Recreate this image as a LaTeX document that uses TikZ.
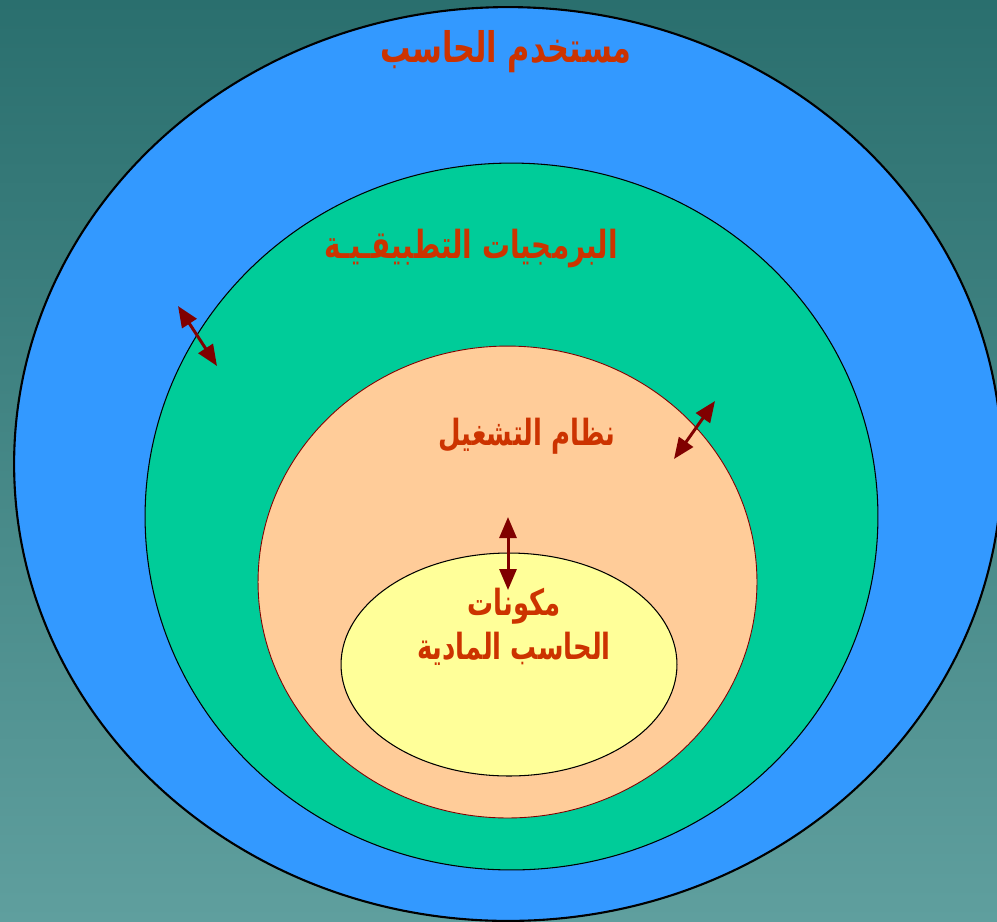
\documentclass[tikz,border=0pt]{standalone}
\usepackage{fontspec}
\newfontfamily\arabicfont[Script=Arabic,FakeStretch=0.72]{DejaVu Sans}
\TeXXeTstate=1
\usetikzlibrary{arrows.meta}

\definecolor{bgtop}{HTML}{2A6F6E}
\definecolor{bgbot}{HTML}{5F9F9E}
\definecolor{userblue}{HTML}{3399FF}
\definecolor{appgreen}{HTML}{00CC99}
\definecolor{ospeach}{HTML}{FFCC99}
\definecolor{hwyellow}{HTML}{FFFF99}
\definecolor{labelred}{HTML}{CC3300}
\definecolor{arrowred}{HTML}{800000}

\tikzset{
  layerlabel/.style={text=labelred, font=\arabicfont\bfseries\fontsize{22}{28}\selectfont, align=center},
  smalllabel/.style={layerlabel, font=\arabicfont\bfseries\fontsize{20.5}{26}\selectfont},
  linkarrow/.style={draw=arrowred, line width=1.7pt, {Triangle[length=0.42cm,width=0.34cm]}-{Triangle[length=0.42cm,width=0.34cm]}}
}

\begin{document}
\begin{tikzpicture}[x=0.02cm,y=-0.02cm]
        \clip (0,0) rectangle (997,921);
        \shade[top color=bgtop, bottom color=bgbot] (0,0) rectangle (997,921);

        \draw[fill=userblue, line width=1.2pt] (508,464) ellipse [x radius=9.88cm, y radius=9.14cm];
        \draw[fill=appgreen, line width=0.6pt] (511.5,516.5) ellipse [x radius=7.33cm, y radius=7.07cm];
        \draw[fill=ospeach, draw=arrowred, line width=0.5pt] (507.5,582) ellipse [x radius=4.99cm, y radius=4.72cm];
        \draw[fill=hwyellow, line width=0.6pt] (509,664.5) ellipse [x radius=3.36cm, y radius=2.23cm];

        \node[layerlabel, font=\arabicfont\bfseries\fontsize{24}{30}\selectfont] (user) at (506,52) {\beginR مستخدم الحاسب\endR};
        \node[layerlabel] (apps) at (471,249) {\beginR البرمجيات التطبيقـيـة\endR};
        \node[smalllabel] (os) at (527,436) {\beginR نظام التشغيل\endR};
        \node[smalllabel] (hw1) at (514,606) {\beginR مكونات\endR};
        \node[smalllabel] (hw2) at (514,649) {\beginR الحاسب المادية\endR};

        \coordinate (a1) at (178,306);
        \coordinate (b1) at (217,366);
        \coordinate (a2) at (715,401);
        \coordinate (b2) at (674,459);
        \coordinate (a3) at (508,517);
        \coordinate (b3) at (508,590);
        \draw[linkarrow] (a1) -- (b1);
        \draw[linkarrow] (a2) -- (b2);
        \draw[linkarrow] (a3) -- (b3);
\end{tikzpicture}
\end{document}
